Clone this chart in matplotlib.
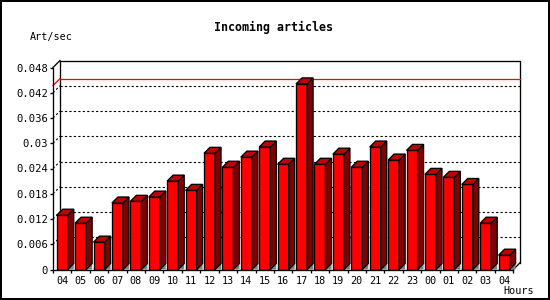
import numpy as np
import matplotlib.pyplot as plt
from matplotlib.patches import Polygon

# data
hours = ['04', '05', '06', '07', '08', '09', '10', '11', '12', '13', '14', '15', '16',
         '17', '18', '19', '20', '21', '22', '23', '00', '01', '02', '03', '04']
rate = [0.0129, 0.0110, 0.0065, 0.0158, 0.0162, 0.0172, 0.0210, 0.0188, 0.0276, 0.0243,
        0.0267, 0.0291, 0.0250, 0.0441, 0.0250, 0.0274, 0.0243, 0.0291, 0.0260, 0.0283,
        0.0226, 0.0219, 0.0202, 0.0110, 0.0034]
peak = 0.0437
yticks = [0, 0.006, 0.012, 0.018, 0.024, 0.03, 0.036, 0.042, 0.048]
ylabels = ['0', '0.006', '0.012', '0.018', '0.024', '0.03', '0.036', '0.042', '0.048']

plt.rcParams['font.family'] = ['DejaVu Sans Mono']

fig = plt.figure(figsize=(5.5, 3), dpi=100)
fig.patch.set_edgecolor('black')
fig.patch.set_linewidth(1.5)

n = len(hours)
ax = fig.add_axes([53 / 550, 30.5 / 300, 460.3 / 550, 202 / 300])
ax.set_xlim(-0.5, n - 0.5)
ax.set_ylim(0, 0.048)
ax.patch.set_visible(False)

lw = 0.95
panel_d = 7   # depth of the back panel, px
bar_d = 6     # depth of the bars, px


def back(x, y, d):
    # move a data point d pixels right and up (pseudo 3D depth)
    px = ax.transData.transform(np.column_stack([np.atleast_1d(x), np.atleast_1d(y)]))
    return ax.transData.inverted().transform(px + d)


x0, x1 = -0.5, n - 0.5

# grid on the back wall
for g in yticks[1:-1]:
    b = back([x0, x1], [g, g], panel_d)
    ax.plot(b[:, 0], b[:, 1], color='black', lw=0.8, ls=(0, (2, 2)), clip_on=False, zorder=1)
    f = back(x0, g, 0)
    ax.plot([f[0, 0], b[0, 0]], [f[0, 1], b[0, 1]], color='black', lw=0.8,
            ls=(0, (2, 2)), clip_on=False, zorder=1)

# peak line
b = back([x0, x1], [peak, peak], panel_d)
ax.plot(b[:, 0], b[:, 1], color='red', lw=0.9, clip_on=False, zorder=1.5)
ax.plot([x0, b[0, 0]], [peak, b[0, 1]], color='red', lw=0.9, clip_on=False, zorder=1.5)

# back panel frame
b = back([x0, x0, x1, x1], [0, 0.048, 0.048, 0], panel_d)
ax.plot(b[:, 0], b[:, 1], color='black', lw=lw, clip_on=False, zorder=1)
tl = back(x0, 0.048, panel_d)
ax.plot([x0, tl[0, 0]], [0.048, tl[0, 1]], color='black', lw=lw, clip_on=False, zorder=1)
br = back(x1, 0, panel_d)
ax.plot([x1, br[0, 0]], [0, br[0, 1]], color='black', lw=lw, clip_on=False, zorder=1)

# bars
w = 0.6
ax.bar(range(n), rate, w, color='#ff0000', edgecolor='black', lw=lw, zorder=3)
for i, v in enumerate(rate):
    xl, xr = i - w / 2, i + w / 2
    rb = back([xr, xr], [0, v], bar_d)
    side = [(xr, 0), (xr, v), tuple(rb[1]), tuple(rb[0])]
    ax.add_patch(Polygon(side, closed=True, fc='#800000', ec='black', lw=lw,
                         clip_on=False, zorder=3))
    tb = back([xl, xr], [v, v], bar_d)
    top = [(xl, v), (xr, v), tuple(tb[1]), tuple(tb[0])]
    ax.add_patch(Polygon(top, closed=True, fc='#c00000', ec='black', lw=lw,
                         clip_on=False, zorder=3))
    shadow = [(xr, 0), tuple(rb[0]), (rb[0, 0], 0)]
    ax.add_patch(Polygon(shadow, closed=True, fc='#808080', ec='none',
                         clip_on=False, zorder=2))

# axes
for s in ['top', 'right']:
    ax.spines[s].set_visible(False)
for s in ['left', 'bottom']:
    ax.spines[s].set_linewidth(lw)
    ax.spines[s].set_zorder(4)

ax.set_yticks(yticks, ylabels)
ax.tick_params(axis='y', length=2.2, width=lw, pad=1.5, labelsize=7.6)
ax.set_xticks(range(n), hours)
ax.set_xticks(np.arange(-0.5, n, 1), minor=True)
ax.tick_params(axis='x', which='major', length=0, pad=5, labelsize=7.3)
ax.tick_params(axis='x', which='minor', length=2.5, width=lw)

fig.text(273.5 / 550, 1 - 27 / 300, 'Incoming articles', ha='center', va='center',
         fontsize=8.4, fontweight='bold')
fig.text(30 / 550, 1 - 36.7 / 300, 'Art/sec', ha='left', va='center', fontsize=7.3)
fig.text(534 / 550, 1 - 291.5 / 300, 'Hours', ha='right', va='center', fontsize=7.3)

fig.savefig('out.png', dpi=100)
